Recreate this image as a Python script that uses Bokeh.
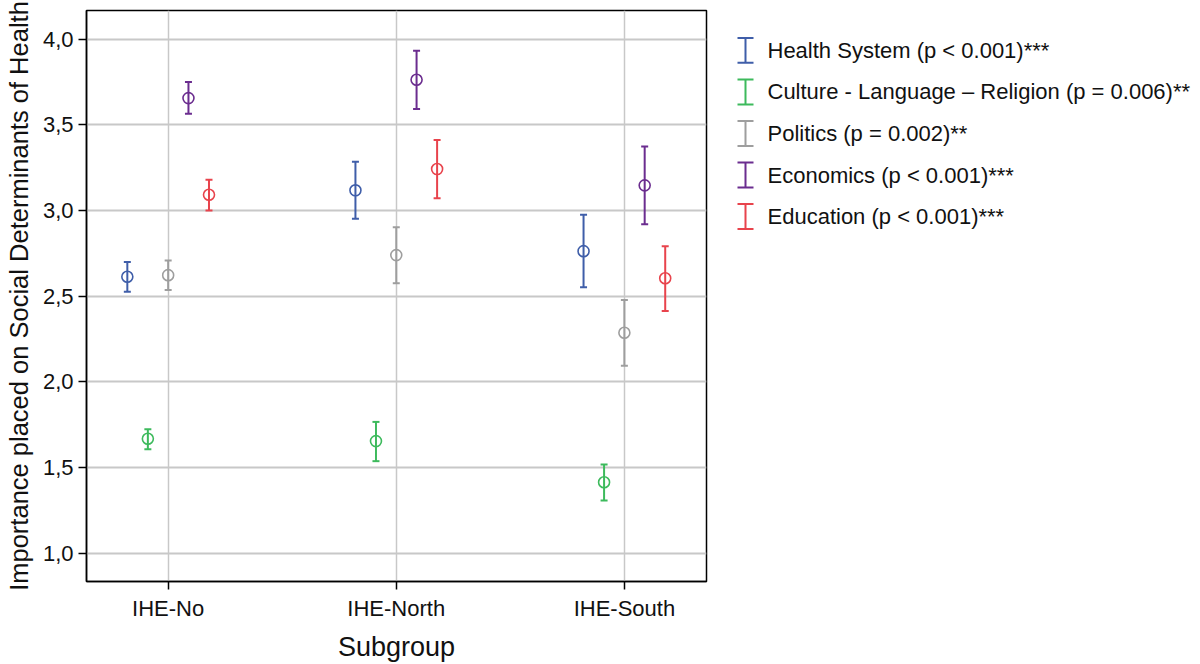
from bokeh.plotting import figure
from bokeh.models import (ColumnDataSource, Whisker, TeeHead, Range1d, FixedTicker,
                          CustomJSTickFormatter)
from bokeh.layouts import row
from bokeh.embed import file_html
from bokeh.resources import INLINE
from bokeh.core.properties import value

# ---------------- data ----------------
groups = ["IHE-No", "IHE-North", "IHE-South"]
series = ["Health System (p < 0.001)***",
          "Culture - Language \u2013 Religion (p = 0.006)**",
          "Politics (p = 0.002)**",
          "Economics (p < 0.001)***",
          "Education (p < 0.001)***"]

health_mean = [2.614, 3.118, 2.763]
health_low = [2.527, 2.952, 2.552]
health_high = [2.700, 3.285, 2.975]

culture_mean = [1.669, 1.655, 1.415]
culture_low = [1.608, 1.538, 1.308]
culture_high = [1.724, 1.767, 1.519]

politics_mean = [2.623, 2.740, 2.287]
politics_low = [2.536, 2.576, 2.095]
politics_high = [2.708, 2.903, 2.478]

economics_mean = [3.656, 3.763, 3.147]
economics_low = [3.564, 3.593, 2.920]
economics_high = [3.750, 3.932, 3.374]

education_mean = [3.092, 3.242, 2.605]
education_low = [3.000, 3.072, 2.414]
education_high = [3.180, 3.411, 2.792]

y_ticks = [1.0, 1.5, 2.0, 2.5, 3.0, 3.5, 4.0]
x_title = "Subgroup"
y_title = "Importance placed on Social Determinants of Health"

# ---------------- styles ----------------
colors = ["#3f5ea9", "#3dba5c", "#9e9e9e", "#6b2d8f", "#e8434c"]
dodge = [-0.179, -0.089, 0.0, 0.089, 0.179]
FONT = "Liberation Sans"
H = 664
MAIN_W = 708
FRAME_TOP = 10
FRAME_BOTTOM = 583

all_data = [(health_mean, health_low, health_high),
            (culture_mean, culture_low, culture_high),
            (politics_mean, politics_low, politics_high),
            (economics_mean, economics_low, economics_high),
            (education_mean, education_low, education_high)]

p = figure(width=MAIN_W, height=H, output_backend="svg", toolbar_location=None,
           x_range=Range1d(-0.358, 2.36), y_range=Range1d(0.836, 4.167),
           min_border_left=86, min_border_right=2, min_border_top=FRAME_TOP,
           min_border_bottom=H - FRAME_BOTTOM)
p.background_fill_color = "white"
p.border_fill_color = "white"
p.outline_line_color = "black"
p.outline_line_width = 1.5

for i, (m, lo, hi) in enumerate(all_data):
    xs = [g + dodge[i] for g in range(len(groups))]
    src = ColumnDataSource(dict(x=xs, y=m, lower=lo, upper=hi))
    w = Whisker(source=src, base="x", lower="lower", upper="upper", dimension="height",
                line_color=colors[i], line_width=2,
                upper_head=TeeHead(size=7, line_color=colors[i], line_width=2),
                lower_head=TeeHead(size=7, line_color=colors[i], line_width=2))
    p.add_layout(w)
    p.scatter("x", "y", source=src, marker="circle", size=11, fill_color=None,
              line_color=colors[i], line_width=1.6)

# axes
p.xaxis.ticker = FixedTicker(ticks=list(range(len(groups))))
p.xaxis.major_label_overrides = {i: g for i, g in enumerate(groups)}
p.yaxis.ticker = FixedTicker(ticks=y_ticks)
p.yaxis.formatter = CustomJSTickFormatter(code="return tick.toFixed(1).replace('.', ',');")
p.xaxis.axis_label = x_title
p.yaxis.axis_label = y_title
for ax in (p.xaxis, p.yaxis):
    ax.axis_line_color = "black"
    ax.axis_line_width = 1.5
    ax.major_tick_line_color = "black"
    ax.major_tick_line_width = 1.5
    ax.major_tick_out = 8
    ax.major_tick_in = 0
    ax.minor_tick_line_color = None
    ax.major_label_text_font = FONT
    ax.major_label_text_font_size = "22px"
    ax.major_label_text_color = "#111111"
    ax.axis_label_text_font = FONT
    ax.axis_label_text_font_style = "normal"
    ax.axis_label_text_color = "#111111"
p.xaxis.axis_label_text_font_size = "27px"
p.yaxis.axis_label_text_font_size = "25.5px"
p.yaxis.major_label_standoff = 5
p.yaxis.axis_label_standoff = 7
p.xaxis.major_label_standoff = 6
p.xaxis.axis_label_standoff = 8

p.xgrid.grid_line_color = "#c8c8c8"
p.xgrid.grid_line_width = 1.5
p.ygrid.grid_line_color = "#c8c8c8"
p.ygrid.grid_line_width = 2

# ---------------- legend panel ----------------
# (the row aligns this panel's frame with the main frame: top 10, height 573)
LW = 1200 - MAIN_W
row_px = 41.7
frame_h = FRAME_BOTTOM - FRAME_TOP
top = -(50 - FRAME_TOP) / row_px
leg = figure(width=LW, height=H, output_backend="svg", toolbar_location=None,
             x_range=Range1d(0, LW), y_range=Range1d(top + frame_h / row_px, top),
             min_border=0, x_axis_location=None, y_axis_location=None)
leg.grid.visible = False
leg.outline_line_color = None
leg.background_fill_color = "white"
leg.border_fill_color = "white"

idx = list(range(len(series)))
lsrc = ColumnDataSource(dict(tx=[59] * len(series), y=idx, label=series))
for i in idx:
    s = ColumnDataSource(dict(x=[37], lower=[i + 0.3], upper=[i - 0.3]))
    leg.add_layout(Whisker(source=s, base="x", lower="lower", upper="upper", dimension="height",
                           line_color=colors[i], line_width=2,
                           upper_head=TeeHead(size=16, line_color=colors[i], line_width=2),
                           lower_head=TeeHead(size=16, line_color=colors[i], line_width=2)))
leg.text("tx", "y", text="label", source=lsrc, text_font=value(FONT), text_font_size="22px",
         text_baseline="middle", text_align="left", text_color="#111111")

layout = row(p, leg)
open("out.html", "w").write(file_html(layout, INLINE))
